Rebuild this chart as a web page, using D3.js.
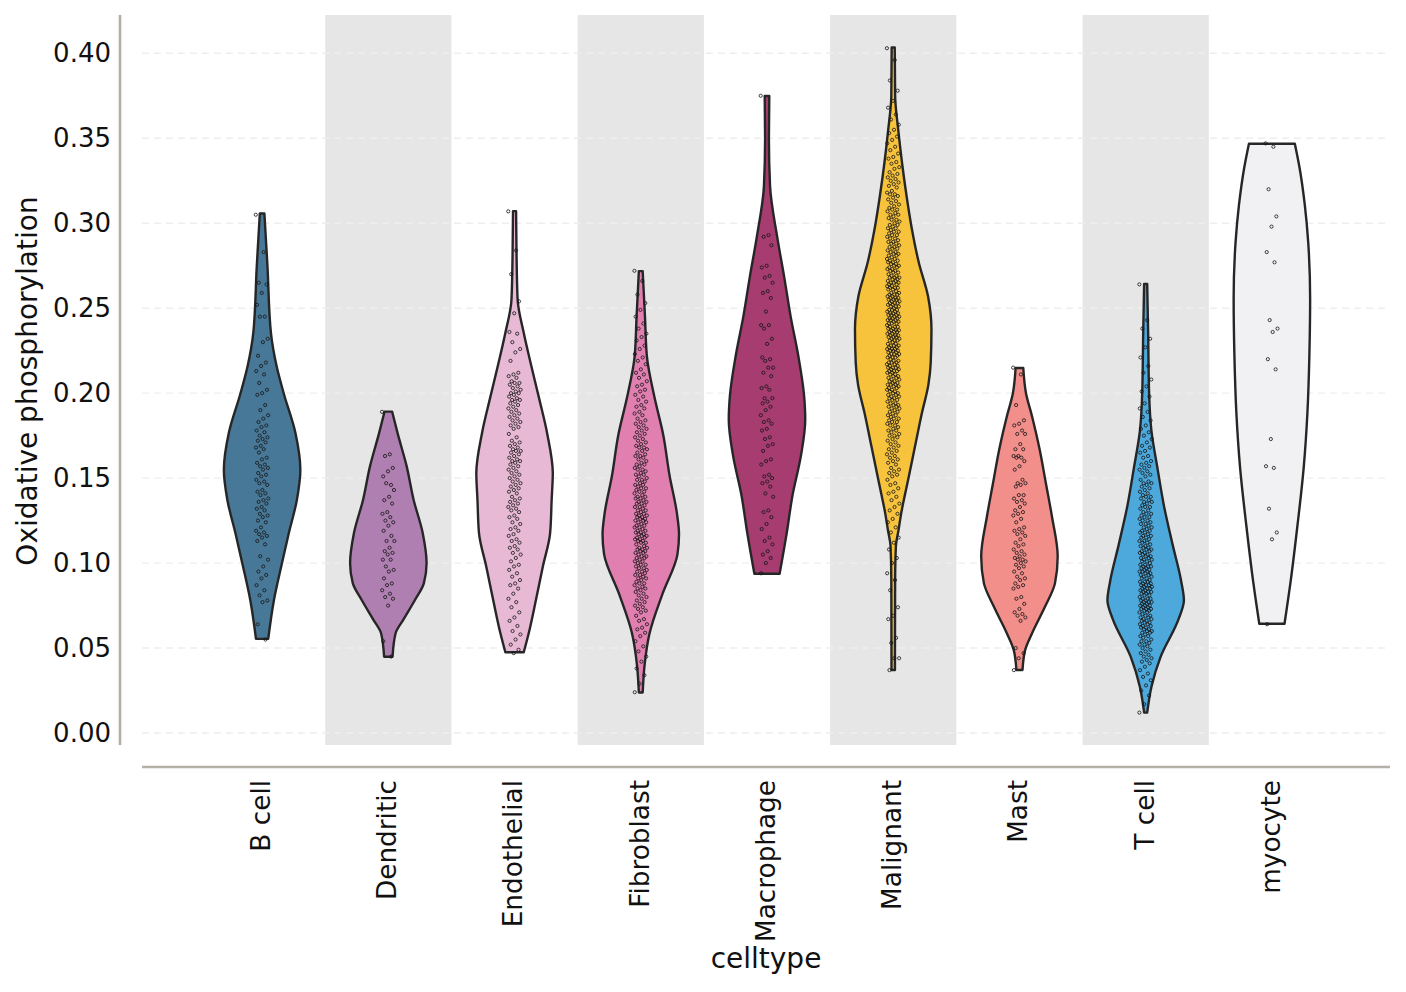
<!DOCTYPE html>
<html>
<head>
<meta charset="utf-8">
<script src="https://cdn.jsdelivr.net/npm/d3@7"></script>
<style>
  body { margin: 0; background: #fff; }
  text { font-family: "DejaVu Sans", sans-serif; fill: #111; }
</style>
</head>
<body>
<svg id="chart" width="1406" height="992"></svg>
<script>
var categories = ["B cell", "Dendritic", "Endothelial", "Fibroblast", "Macrophage", "Malignant", "Mast", "T cell", "myocyte"];
var colors = ["#487898", "#b07fb1", "#e8b9d5", "#e17fb0", "#a63c70", "#f7c33d", "#f28f8b", "#4da9dc", "#f1f0f3"];
var yTicks = [0, 0.05, 0.10, 0.15, 0.20, 0.25, 0.30, 0.35, 0.40];

// violin outlines: value along the axis + relative half width (1 = widest)
var bcellShapeV = [.3057, .2747, .2356, .2158, .1995, .1767, .1549, .1373, .1178, .1001, .0783, .0554];
var bcellShapeW = [.06, .14, .23, .38, .57, .87, 1.0, .91, .70, .52, .31, .16];
var dendShapeV = [.1891, .1766, .1569, .1373, .1176, .1000, .0882, .0784, .0666, .0587, .0449];
var dendShapeW = [.10, .24, .48, .66, .90, 1.0, .93, .70, .39, .19, .11];
var endoShapeV = [.3071, .2845, .2551, .2355, .2158, .1962, .1766, .1530, .1373, .1176, .0980, .0784, .0587, .0475];
var endoShapeW = [.04, .05, .08, .24, .44, .65, .85, 1.0, .97, .93, .74, .56, .37, .24];
var fibroShapeV = [.2718, .2449, .2217, .1984, .1751, .1518, .1285, .1169, .1053, .0820, .0587, .0401, .0238];
var fibroShapeW = [.05, .11, .16, .35, .59, .75, .95, 1.0, .96, .57, .23, .10, .05];
var macroShapeV = [.3749, .3498, .3218, .2915, .2683, .2449, .2217, .1984, .1845, .1635, .1402, .1169, .0937];
var macroShapeW = [.06, .05, .08, .27, .45, .62, .82, .97, 1.0, .89, .67, .51, .33];
var maligShapeV = [.4034, .3748, .3552, .3356, .3159, .2963, .2767, .2570, .2374, .2178, .2050, .1883, .1687, .1490, .1294, .1196, .1098, .0901, .0371];
var maligShapeW = [.04, .05, .13, .23, .35, .49, .67, .91, 1.0, .98, .92, .75, .57, .39, .21, .14, .07, .05, .045];
var mastShapeV = [.2148, .2001, .1863, .1667, .1471, .1274, .1039, .0882, .0744, .0587, .0489, .0371];
var mastShapeW = [.10, .17, .33, .53, .69, .85, 1.0, .93, .67, .33, .15, .08];
var tcellShapeV = [.2643, .2350, .2001, .1779, .1557, .1335, .1113, .0892, .0781, .0670, .0448, .0271, .0120];
var tcellShapeW = [.04, .065, .09, .15, .31, .48, .70, .93, 1.0, .86, .39, .15, .04];
var myoShapeV = [.3468, .3331, .3109, .2887, .2554, .2222, .1889, .1557, .1224, .0892, .0643];
var myoShapeW = [.60, .72, .86, .95, 1.0, .98, .93, .83, .67, .49, .33];

// single cells (scores)
var bcellPoints = [.305,.283,.265,.264,.259,.252,.245,.245,.232,.230,.222,.218,.216,.213,.211,.206,.202,.200,.199,.193,.190,.187,.185,.183,.181,.180,.178,.177,.175,.174,.173,.172,.171,.169,.168,.167,.165,.162,.161,.159,.158,.157,.156,.155,.153,.152,.151,.149,.148,.147,.146,.143,.142,.141,.140,.138,.137,.136,.135,.133,.132,.131,.129,.128,.127,.125,.124,.121,.119,.118,.117,.116,.115,.113,.111,.104,.102,.098,.095,.093,.091,.087,.084,.081,.078,.077,.064,.055];
var dendPoints = [.189,.164,.163,.156,.154,.151,.146,.147,.143,.139,.137,.135,.130,.129,.127,.125,.124,.122,.119,.116,.113,.113,.109,.107,.106,.105,.102,.102,.098,.096,.095,.091,.088,.087,.084,.082,.080,.079,.075,.054,.045];
var endoPoints = [.307,.284,.270,.254,.247,.236,.235,.230,.226,.224,.219,.212,.211,.210,.209,.207,.206,.206,.205,.204,.203,.202,.201,.200,.200,.199,.198,.197,.196,.196,.195,.194,.193,.192,.191,.190,.189,.188,.187,.186,.185,.184,.183,.182,.181,.180,.179,.176,.174,.172,.171,.170,.169,.168,.167,.166,.166,.165,.164,.163,.162,.161,.160,.160,.159,.158,.157,.156,.155,.154,.153,.152,.151,.150,.149,.148,.147,.146,.145,.144,.143,.142,.141,.139,.138,.137,.136,.135,.134,.133,.132,.131,.130,.128,.127,.126,.124,.123,.121,.120,.119,.117,.116,.114,.113,.112,.110,.109,.108,.106,.105,.103,.101,.099,.098,.096,.094,.092,.090,.088,.087,.085,.082,.079,.077,.074,.071,.068,.066,.063,.060,.058,.055,.052,.049,.047];
var fibroPoints = [.272,.266,.258,.253,.249,.245,.241,.238,.235,.233,.231,.228,.226,.223,.221,.219,.217,.214,.212,.211,.209,.207,.205,.204,.202,.201,.199,.198,.196,.195,.193,.192,.191,.189,.188,.187,.185,.184,.183,.182,.181,.180,.179,.178,.177,.176,.175,.174,.173,.172,.171,.170,.169,.168,.168,.167,.166,.165,.164,.163,.163,.162,.161,.160,.159,.158,.158,.157,.156,.155,.155,.154,.153,.152,.152,.151,.150,.149,.149,.148,.147,.146,.146,.145,.144,.144,.143,.142,.142,.141,.140,.139,.139,.138,.138,.137,.136,.136,.135,.135,.134,.133,.133,.132,.131,.131,.130,.129,.129,.128,.128,.127,.127,.126,.126,.125,.125,.124,.124,.123,.122,.122,.121,.121,.120,.119,.119,.118,.118,.117,.117,.116,.116,.115,.115,.114,.114,.113,.113,.112,.112,.111,.110,.109,.109,.108,.108,.107,.107,.106,.106,.105,.104,.104,.103,.103,.102,.101,.101,.100,.099,.099,.098,.097,.097,.096,.095,.095,.094,.093,.093,.092,.091,.091,.090,.089,.088,.088,.087,.086,.085,.085,.084,.083,.082,.081,.080,.079,.078,.077,.076,.075,.074,.073,.072,.071,.069,.067,.066,.064,.062,.061,.059,.057,.054,.051,.048,.045,.042,.038,.034,.029,.024];
var macroPoints = [.375,.293,.292,.287,.275,.274,.269,.268,.265,.260,.259,.256,.248,.240,.240,.238,.232,.229,.221,.220,.219,.215,.215,.212,.210,.204,.203,.202,.197,.197,.195,.194,.192,.190,.187,.184,.183,.182,.179,.178,.174,.173,.170,.169,.166,.161,.160,.158,.152,.151,.150,.148,.147,.145,.141,.139,.131,.130,.127,.123,.120,.115,.113,.111,.107,.105,.103,.100,.094];
var maligPoints = [.403,.396,.384,.378,.372,.368,.364,.361,.358,.355,.353,.351,.349,.347,.345,.343,.341,.339,.338,.336,.335,.333,.332,.330,.329,.328,.327,.326,.325,.324,.323,.322,.321,.319,.318,.317,.317,.316,.315,.314,.313,.312,.311,.310,.309,.308,.308,.307,.306,.305,.305,.304,.303,.302,.302,.301,.300,.299,.299,.298,.297,.297,.296,.295,.295,.294,.293,.293,.292,.291,.291,.290,.289,.289,.288,.288,.287,.286,.286,.285,.285,.284,.283,.283,.282,.282,.281,.281,.280,.279,.279,.278,.278,.277,.277,.276,.276,.275,.275,.274,.274,.273,.273,.272,.272,.271,.271,.270,.269,.269,.268,.268,.268,.267,.267,.266,.266,.265,.265,.265,.264,.264,.263,.263,.262,.262,.262,.261,.261,.260,.259,.259,.258,.258,.258,.257,.257,.256,.256,.256,.255,.255,.255,.254,.254,.253,.253,.253,.252,.252,.251,.251,.251,.250,.249,.249,.249,.248,.248,.247,.247,.247,.246,.246,.246,.245,.245,.244,.244,.244,.243,.243,.243,.242,.242,.241,.241,.241,.240,.239,.239,.239,.238,.238,.237,.237,.237,.236,.236,.236,.235,.235,.234,.234,.234,.233,.233,.233,.232,.232,.231,.231,.231,.230,.229,.229,.228,.228,.228,.227,.227,.226,.226,.226,.225,.225,.225,.224,.224,.223,.223,.223,.222,.222,.221,.221,.221,.220,.219,.219,.218,.218,.218,.217,.217,.216,.216,.215,.215,.215,.214,.214,.213,.213,.213,.212,.212,.211,.211,.210,.210,.209,.209,.208,.208,.207,.207,.206,.206,.205,.205,.205,.204,.204,.203,.203,.202,.202,.201,.201,.200,.200,.199,.199,.198,.198,.197,.197,.196,.196,.195,.194,.194,.193,.193,.192,.192,.191,.191,.190,.189,.189,.188,.187,.187,.186,.185,.185,.184,.183,.183,.182,.181,.181,.180,.179,.178,.178,.177,.176,.175,.175,.174,.173,.172,.171,.170,.169,.168,.167,.166,.165,.164,.163,.162,.161,.160,.159,.158,.156,.155,.154,.153,.152,.151,.149,.147,.146,.144,.142,.141,.139,.137,.135,.133,.131,.129,.126,.124,.121,.118,.115,.112,.108,.103,.100,.094,.090,.084,.074,.069,.067,.056,.053,.044,.044,.037];
var mastPoints = [.215,.211,.193,.184,.182,.181,.178,.176,.176,.170,.167,.167,.163,.163,.162,.162,.160,.157,.155,.149,.147,.147,.146,.145,.140,.140,.138,.137,.136,.135,.133,.131,.130,.129,.128,.126,.124,.121,.120,.119,.118,.117,.116,.114,.112,.111,.110,.108,.107,.106,.105,.104,.103,.102,.102,.101,.100,.099,.098,.097,.095,.094,.092,.091,.090,.088,.087,.086,.085,.080,.079,.076,.073,.071,.070,.069,.068,.066,.050,.047,.044,.037];
var tcellPoints = [.264,.243,.238,.232,.227,.221,.216,.212,.208,.204,.201,.198,.194,.191,.189,.186,.184,.181,.179,.177,.175,.173,.171,.169,.168,.166,.165,.163,.162,.160,.159,.158,.157,.156,.155,.154,.153,.152,.151,.149,.148,.147,.147,.146,.145,.144,.143,.142,.141,.140,.139,.139,.138,.137,.136,.136,.135,.134,.133,.133,.132,.131,.130,.129,.129,.128,.127,.127,.126,.125,.125,.124,.123,.123,.122,.121,.121,.120,.119,.119,.118,.118,.117,.116,.116,.115,.115,.114,.113,.113,.112,.112,.111,.110,.110,.109,.109,.108,.108,.107,.107,.106,.106,.105,.105,.104,.104,.103,.103,.102,.102,.101,.101,.100,.099,.099,.098,.098,.098,.097,.097,.096,.096,.095,.095,.095,.094,.094,.093,.093,.092,.092,.091,.091,.090,.089,.089,.089,.088,.088,.087,.087,.087,.086,.086,.085,.085,.085,.084,.084,.083,.083,.083,.082,.082,.081,.081,.080,.079,.079,.079,.078,.078,.077,.077,.077,.076,.076,.075,.075,.075,.074,.074,.073,.073,.073,.072,.072,.071,.071,.070,.069,.069,.068,.068,.067,.067,.066,.066,.065,.065,.064,.064,.063,.063,.062,.062,.061,.061,.060,.060,.059,.059,.058,.057,.057,.056,.055,.054,.054,.053,.052,.052,.051,.050,.049,.048,.047,.046,.045,.044,.043,.042,.041,.039,.037,.035,.033,.031,.028,.025,.022,.017,.012];
var myoPoints = [.347,.345,.320,.304,.298,.283,.277,.243,.238,.236,.220,.214,.173,.157,.156,.132,.118,.114,.064];

var shapesV = [bcellShapeV, dendShapeV, endoShapeV, fibroShapeV, macroShapeV, maligShapeV, mastShapeV, tcellShapeV, myoShapeV];
var shapesW = [bcellShapeW, dendShapeW, endoShapeW, fibroShapeW, macroShapeW, maligShapeW, mastShapeW, tcellShapeW, myoShapeW];
var pointSets = [bcellPoints, dendPoints, endoPoints, fibroPoints, macroPoints, maligPoints, mastPoints, tcellPoints, myoPoints];

var svg = d3.select("#chart");

var x = d3.scaleBand().domain(categories).range([199, 1335]);
var y = d3.scaleLinear().domain([0, 0.4]).range([733, 53.3]);
// half width of a violin, relative density -> pixels
var w = d3.scaleLinear().domain([0, 1]).range([0, x.bandwidth() * 0.303]);

// shaded band behind every second category
svg.append("g").selectAll("rect")
  .data(categories.filter((d, i) => i % 2 == 1))
  .enter().append("rect")
  .attr("x", d => x(d))
  .attr("y", 15)
  .attr("width", x.bandwidth())
  .attr("height", 730)
  .attr("fill", "#e6e6e6");

// dashed grid
svg.append("g").selectAll("line")
  .data(yTicks)
  .enter().append("line")
  .attr("x1", 142).attr("x2", 1390)
  .attr("y1", d => y(d)).attr("y2", d => y(d))
  .attr("stroke", "#eeeeee")
  .attr("stroke-width", 1.4)
  .attr("stroke-dasharray", "7,5");

// violins
categories.forEach((cat, ci) => {
  var cx = x(cat) + x.bandwidth() / 2;
  var prof = shapesV[ci].map((v, k) => [v, shapesW[ci][k]]);
  var area = d3.area()
    .y(d => y(d[0]))
    .x0(d => cx - w(d[1]))
    .x1(d => cx + w(d[1]))
    .curve(d3.curveMonotoneY);
  svg.append("path")
    .datum(prof)
    .attr("d", area)
    .attr("fill", colors[ci])
    .attr("stroke", "#262626")
    .attr("stroke-width", 2.4)
    .attr("stroke-linejoin", "round");
});

// jittered cells on top
var jw = x.bandwidth() * 0.1;
categories.forEach((cat, ci) => {
  var cx = x(cat) + x.bandwidth() / 2;
  svg.append("g").selectAll("circle")
    .data(pointSets[ci])
    .enter().append("circle")
    .attr("cx", (d, i) => cx + (((i * 0.6180339887) % 1) - 0.5) * jw)
    .attr("cy", d => y(d))
    .attr("r", 1.6)
    .attr("fill", "none")
    .attr("stroke", "#151515")
    .attr("stroke-opacity", 0.8)
    .attr("stroke-width", 1);
});

// y axis
var yAxis = svg.append("g")
  .attr("transform", "translate(120,0)")
  .call(d3.axisLeft(y).tickValues(yTicks).tickFormat(d3.format(".2f")).tickSize(0).tickPadding(9));
yAxis.select(".domain").remove();
yAxis.selectAll("text").style("font-size", "26px").style("font-family", "DejaVu Sans");
svg.append("line")
  .attr("x1", 120).attr("x2", 120).attr("y1", 15).attr("y2", 745)
  .attr("stroke", "#b4afa7").attr("stroke-width", 2.6);

// x axis
var xAxis = svg.append("g")
  .attr("transform", "translate(0,767)")
  .call(d3.axisBottom(x).tickSize(0));
xAxis.select(".domain").remove();
xAxis.selectAll("text")
  .attr("transform", "rotate(-90)")
  .attr("x", -13)
  .attr("y", 0)
  .attr("dy", "0.3em")
  .style("text-anchor", "end")
  .style("font-size", "26.3px")
  .style("font-family", "DejaVu Sans");
svg.append("line")
  .attr("x1", 142).attr("x2", 1390).attr("y1", 767).attr("y2", 767)
  .attr("stroke", "#b4afa7").attr("stroke-width", 2.6);

// titles
svg.append("text")
  .attr("transform", "translate(37,381) rotate(-90)")
  .attr("text-anchor", "middle")
  .style("font-size", "28px")
  .text("Oxidative phosphorylation");
svg.append("text")
  .attr("x", 766).attr("y", 968)
  .attr("text-anchor", "middle")
  .style("font-size", "28px")
  .text("celltype");
</script>
</body>
</html>
